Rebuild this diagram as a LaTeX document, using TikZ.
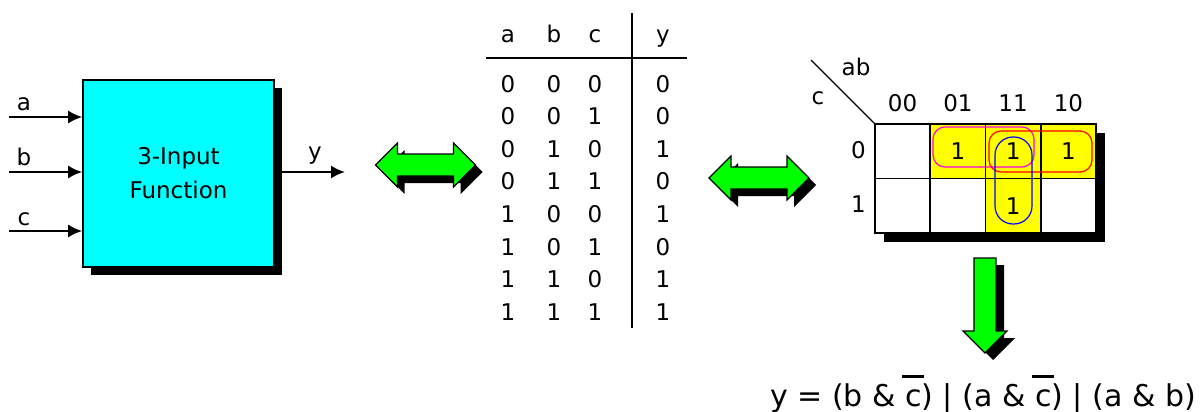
\documentclass[tikz,border=0pt]{standalone}
\usepackage{fontspec}
\setmainfont{DejaVu Sans}
\usetikzlibrary{arrows.meta,shadows,positioning}
\definecolor{boxcyan}{RGB}{0,255,255}
\definecolor{arrowgreen}{RGB}{0,255,0}
\definecolor{cellyellow}{RGB}{255,255,0}
\definecolor{loopmag}{RGB}{255,0,230}
\definecolor{loopred}{RGB}{255,0,0}
\definecolor{loopblue}{RGB}{0,0,255}
\newcommand{\cbar}{\makebox[0pt][l]{\hspace{-1.5pt}\rule[14pt]{11pt}{1.5pt}}c}
\tikzset{
  every node/.style = {font=\fontsize{11.5}{14}\selectfont},
  txt/.style = {text height=1.6ex,text depth=0.3ex,inner sep=1pt},
  wire/.style = {line width=1pt,-{Latex[length=7pt,width=6.5pt]}},
  funcbox/.style = {rectangle,draw=black,line width=0.8pt,fill=boxcyan,
     minimum width=95.5pt,minimum height=93.5pt,align=center,
     font=\fontsize{11.5}{17}\selectfont,
     drop shadow={shadow xshift=4pt,shadow yshift=-4pt,fill=black,opacity=1}},
  rule/.style = {line width=1pt},
  kcell/.style = {rectangle,draw=black,line width=0.8pt,fill=white,
     minimum width=27.6pt,minimum height=27.25pt,inner sep=0pt},
  hit/.style = {kcell,fill=cellyellow},
  group/.style = {line width=0.6pt,rounded corners=6pt},
  fat/.style = {fill=arrowgreen,draw=black,line width=0.6pt},
  dblarrow/.pic = {
    \fill[black,shift={(7,7)}] (-50,0) -- (-28,-22) -- (-28,-11) -- (28,-11) -- (28,-22)
        -- (50,0) -- (28,22) -- (28,11) -- (-28,11) -- (-28,22) -- cycle;
    \draw[fat] (-50,0) -- (-28,-22) -- (-28,-11) -- (28,-11) -- (28,-22)
        -- (50,0) -- (28,22) -- (28,11) -- (-28,11) -- (-28,22) -- cycle;
  },
  downarrow/.pic = {
    \fill[black,shift={(8,7)}] (-11,0) -- (11,0) -- (11,73) -- (22,73) -- (0,95)
        -- (-22,73) -- (-11,73) -- cycle;
    \draw[fat] (-11,0) -- (11,0) -- (11,73) -- (22,73) -- (0,95)
        -- (-22,73) -- (-11,73) -- cycle;
  },
}

\begin{document}
\begin{tikzpicture}[x=0.5pt,y=-0.5pt]
    \useasboundingbox (0,0) rectangle (1200,412);

    % function block
    \node[funcbox] (fbox) at (178.5,173.5) {3-Input\\Function};

    \coordinate (ina) at (9,117);
    \coordinate (inb) at (9,172);
    \coordinate (inc) at (9,231);
    \coordinate (outy) at (345,172);

    \node[txt] at (24,103) (la) {a};
    \node[txt] at (24,158) (lb) {b};
    \node[txt] at (24,218) (lc) {c};
    \node[txt] at (315,152) (ly) {y};

    \draw[wire] (ina) -- (ina -| fbox.west);
    \draw[wire] (inb) -- (inb -| fbox.west);
    \draw[wire] (inc) -- (inc -| fbox.west);
    \draw[wire] (fbox.east |- outy) -- (outy);

    \pic (arrowA) at (425.5,165) {dblarrow};

    % truth table
    \node[txt] at (508,35) (ha) {a};
    \node[txt] at (554,35) (hb) {b};
    \node[txt] at (595,35) (hc) {c};
    \node[txt] at (663,35) (hy) {y};
    \coordinate (hl) at (486,58);
    \coordinate (hr) at (687,58);
    \coordinate (vt) at (632,13);
    \coordinate (vb) at (632,328);
    \draw[rule] (hl) -- (hr);
    \draw[rule] (vt) -- (vb);

    \foreach \a/\b/\c/\y [count=\r] in {0/0/0/0,0/0/1/0,0/1/0/1,0/1/1/0,
                                        1/0/0/1,1/0/1/0,1/1/0/1,1/1/1/1} {
        \node[txt] at (508,{52.4+32.6*\r}) (ta\r) {\a};
        \node[txt] at (554,{52.4+32.6*\r}) (tb\r) {\b};
        \node[txt] at (595,{52.4+32.6*\r}) (tc\r) {\c};
        \node[txt] at (663,{52.4+32.6*\r}) (ty\r) {\y};
    }

    \pic (arrowB) at (759,178) {dblarrow};

    % karnaugh map
    \fill[black] (884,133) rectangle (1105,242);

    \node[kcell] at (902.6,151.25) (r0c00) {};
    \node[hit]   at (957.9,151.25) (r0c01) {1};
    \node[hit]   at (1013.1,151.25) (r0c11) {1};
    \node[hit]   at (1068.4,151.25) (r0c10) {1};
    \node[kcell] at (902.6,205.75) (r1c00) {};
    \node[kcell] at (957.9,205.75) (r1c01) {};
    \node[hit]   at (1013.1,205.75) (r1c11) {1};
    \node[kcell] at (1068.4,205.75) (r1c10) {};

    \node[txt,above=3pt of r0c00] (k00) {00};
    \node[txt,above=3pt of r0c01] (k01) {01};
    \node[txt,above=3pt of r0c11] (k11) {11};
    \node[txt,above=3pt of r0c10] (k10) {10};
    \node[txt,left=3pt of r0c00] (kc0) {0};
    \node[txt,left=3pt of r1c00] (kc1) {1};

    \coordinate (diag) at (811,60);
    \draw[line width=0.6pt] (diag) -- (r0c00.north west);
    \node[txt] at (856,68) (kab) {ab};
    \node[txt] at (818,97) (kc) {c};

    \draw[group,loopmag] (933,127) rectangle (1034,167);
    \draw[group,loopred] (989,131) rectangle (1092,172);
    \draw[group,loopblue,rounded corners=9pt] (995,137) rectangle (1032,224);

    \pic (arrowC) at (985,258) {downarrow};

    \node[font=\fontsize{15}{18}\selectfont,anchor=base,inner sep=0pt] at (983,406) (eq)
        {y = (b \& \cbar) | (a \& \cbar) | (a \& b)};

\end{tikzpicture}
\end{document}
